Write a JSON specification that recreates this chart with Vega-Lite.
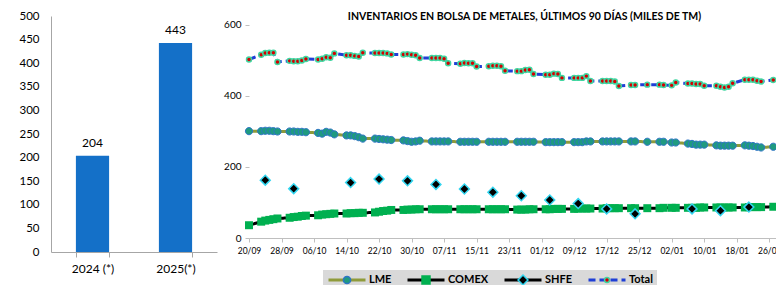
{
  "$schema": "https://vega.github.io/schema/vega-lite/v6.json",
  "background": "white",
  "padding": {"left": 18, "top": 10, "right": 0, "bottom": 0},
  "spacing": 6,
  "config": {
    "view": {"stroke": null},
    "font": "Lato",
    "axis": {"labelFont": "Lato", "labelColor": "#000000", "grid": false, "title": null}
  },
  "datasets": {
    "daily": [
      {"date": "2024-09-20", "LME": 301, "COMEX": 36, "Total": 503},
      {"date": "2024-09-23", "LME": 301, "COMEX": 46, "Total": 516},
      {"date": "2024-09-24", "LME": 302, "COMEX": 49, "Total": 521},
      {"date": "2024-09-25", "LME": 302, "COMEX": 51, "Total": 522},
      {"date": "2024-09-26", "LME": 301, "COMEX": 53, "Total": 522},
      {"date": "2024-09-27", "LME": 300, "COMEX": 55, "Total": 496},
      {"date": "2024-09-30", "LME": 300, "COMEX": 57, "Total": 499},
      {"date": "2024-10-01", "LME": 300, "COMEX": 59, "Total": 498},
      {"date": "2024-10-02", "LME": 299, "COMEX": 60, "Total": 498},
      {"date": "2024-10-03", "LME": 299, "COMEX": 62, "Total": 500},
      {"date": "2024-10-04", "LME": 298, "COMEX": 63, "Total": 504},
      {"date": "2024-10-07", "LME": 296, "COMEX": 64, "Total": 503},
      {"date": "2024-10-08", "LME": 294, "COMEX": 66, "Total": 505},
      {"date": "2024-10-09", "LME": 299, "COMEX": 67, "Total": 509},
      {"date": "2024-10-10", "LME": 297, "COMEX": 68, "Total": 508},
      {"date": "2024-10-11", "LME": 292, "COMEX": 69, "Total": 520},
      {"date": "2024-10-14", "LME": 289, "COMEX": 69, "Total": 515},
      {"date": "2024-10-15", "LME": 289, "COMEX": 70, "Total": 515},
      {"date": "2024-10-16", "LME": 287, "COMEX": 70, "Total": 513},
      {"date": "2024-10-17", "LME": 284, "COMEX": 71, "Total": 511},
      {"date": "2024-10-18", "LME": 280, "COMEX": 71, "Total": 522},
      {"date": "2024-10-21", "LME": 280, "COMEX": 72, "Total": 521},
      {"date": "2024-10-22", "LME": 279, "COMEX": 74, "Total": 521},
      {"date": "2024-10-23", "LME": 278, "COMEX": 76, "Total": 521},
      {"date": "2024-10-24", "LME": 277, "COMEX": 77, "Total": 520},
      {"date": "2024-10-25", "LME": 276, "COMEX": 79, "Total": 517},
      {"date": "2024-10-28", "LME": 275, "COMEX": 79, "Total": 517},
      {"date": "2024-10-29", "LME": 273, "COMEX": 80, "Total": 518},
      {"date": "2024-10-30", "LME": 271, "COMEX": 80, "Total": 516},
      {"date": "2024-10-31", "LME": 272, "COMEX": 81, "Total": 515},
      {"date": "2024-11-01", "LME": 274, "COMEX": 81, "Total": 507},
      {"date": "2024-11-04", "LME": 272, "COMEX": 81, "Total": 507},
      {"date": "2024-11-05", "LME": 272, "COMEX": 81, "Total": 507},
      {"date": "2024-11-06", "LME": 272, "COMEX": 81, "Total": 507},
      {"date": "2024-11-07", "LME": 272, "COMEX": 81, "Total": 505},
      {"date": "2024-11-08", "LME": 272, "COMEX": 81, "Total": 492},
      {"date": "2024-11-11", "LME": 271, "COMEX": 81, "Total": 491},
      {"date": "2024-11-12", "LME": 271, "COMEX": 81, "Total": 493},
      {"date": "2024-11-13", "LME": 271, "COMEX": 81, "Total": 492},
      {"date": "2024-11-14", "LME": 271, "COMEX": 81, "Total": 492},
      {"date": "2024-11-15", "LME": 271, "COMEX": 81, "Total": 483},
      {"date": "2024-11-18", "LME": 271, "COMEX": 81, "Total": 484},
      {"date": "2024-11-19", "LME": 271, "COMEX": 81, "Total": 485},
      {"date": "2024-11-20", "LME": 271, "COMEX": 81, "Total": 485},
      {"date": "2024-11-21", "LME": 271, "COMEX": 81, "Total": 484},
      {"date": "2024-11-22", "LME": 271, "COMEX": 81, "Total": 471},
      {"date": "2024-11-25", "LME": 271, "COMEX": 80, "Total": 470},
      {"date": "2024-11-26", "LME": 271, "COMEX": 80, "Total": 470},
      {"date": "2024-11-27", "LME": 271, "COMEX": 80, "Total": 473},
      {"date": "2024-11-28", "LME": 271, "COMEX": 81, "Total": 474},
      {"date": "2024-11-29", "LME": 271, "COMEX": 81, "Total": 462},
      {"date": "2024-12-02", "LME": 270, "COMEX": 81, "Total": 460},
      {"date": "2024-12-03", "LME": 270, "COMEX": 81, "Total": 460},
      {"date": "2024-12-04", "LME": 270, "COMEX": 82, "Total": 463},
      {"date": "2024-12-05", "LME": 270, "COMEX": 82, "Total": 462},
      {"date": "2024-12-06", "LME": 270, "COMEX": 82, "Total": 451},
      {"date": "2024-12-09", "LME": 270, "COMEX": 82, "Total": 451},
      {"date": "2024-12-10", "LME": 270, "COMEX": 83, "Total": 451},
      {"date": "2024-12-11", "LME": 270, "COMEX": 83, "Total": 451},
      {"date": "2024-12-12", "LME": 272, "COMEX": 83, "Total": 456},
      {"date": "2024-12-13", "LME": 272, "COMEX": 83, "Total": 442},
      {"date": "2024-12-16", "LME": 272, "COMEX": 83, "Total": 442},
      {"date": "2024-12-17", "LME": 272, "COMEX": 84, "Total": 442},
      {"date": "2024-12-18", "LME": 272, "COMEX": 84, "Total": 442},
      {"date": "2024-12-19", "LME": 272, "COMEX": 84, "Total": 441},
      {"date": "2024-12-20", "LME": 272, "COMEX": 84, "Total": 428},
      {"date": "2024-12-23", "LME": 272, "COMEX": 84, "Total": 431},
      {"date": "2024-12-24", "LME": 272, "COMEX": 84, "Total": 431},
      {"date": "2024-12-27", "LME": 271, "COMEX": 84, "Total": 432},
      {"date": "2024-12-30", "LME": 271, "COMEX": 84, "Total": 432},
      {"date": "2024-12-31", "LME": 271, "COMEX": 85, "Total": 431},
      {"date": "2025-01-02", "LME": 269, "COMEX": 85, "Total": 430},
      {"date": "2025-01-03", "LME": 269, "COMEX": 85, "Total": 438},
      {"date": "2025-01-06", "LME": 266, "COMEX": 85, "Total": 435},
      {"date": "2025-01-07", "LME": 265, "COMEX": 85, "Total": 435},
      {"date": "2025-01-08", "LME": 263, "COMEX": 85, "Total": 434},
      {"date": "2025-01-09", "LME": 263, "COMEX": 86, "Total": 434},
      {"date": "2025-01-10", "LME": 263, "COMEX": 86, "Total": 429},
      {"date": "2025-01-13", "LME": 261, "COMEX": 86, "Total": 429},
      {"date": "2025-01-14", "LME": 260, "COMEX": 86, "Total": 426},
      {"date": "2025-01-15", "LME": 260, "COMEX": 86, "Total": 424},
      {"date": "2025-01-16", "LME": 260, "COMEX": 86, "Total": 426},
      {"date": "2025-01-17", "LME": 260, "COMEX": 86, "Total": 436},
      {"date": "2025-01-20", "LME": 261, "COMEX": 86, "Total": 446},
      {"date": "2025-01-21", "LME": 260, "COMEX": 87, "Total": 446},
      {"date": "2025-01-22", "LME": 259, "COMEX": 87, "Total": 446},
      {"date": "2025-01-23", "LME": 257, "COMEX": 87, "Total": 443},
      {"date": "2025-01-24", "LME": 255, "COMEX": 87, "Total": 441},
      {"date": "2025-01-27", "LME": 257, "COMEX": 88, "Total": 445}
    ],
    "shfe": [
      {"date": "2024-09-24", "SHFE": 163},
      {"date": "2024-10-01", "SHFE": 139},
      {"date": "2024-10-15", "SHFE": 156},
      {"date": "2024-10-22", "SHFE": 166},
      {"date": "2024-10-29", "SHFE": 161},
      {"date": "2024-11-05", "SHFE": 151},
      {"date": "2024-11-12", "SHFE": 138},
      {"date": "2024-11-19", "SHFE": 129},
      {"date": "2024-11-26", "SHFE": 119},
      {"date": "2024-12-03", "SHFE": 107},
      {"date": "2024-12-10", "SHFE": 97},
      {"date": "2024-12-17", "SHFE": 82},
      {"date": "2024-12-24", "SHFE": 68},
      {"date": "2025-01-07", "SHFE": 82},
      {"date": "2025-01-14", "SHFE": 77},
      {"date": "2025-01-21", "SHFE": 87}
    ],
    "annual": [
      {"year": "2024 (*)", "value": 204},
      {"year": "2025(*)", "value": 443}
    ]
  },
  "hconcat": [
    {
      "width": 166,
      "height": 236,
      "data": {"name": "annual"},
      "encoding": {
        "x": {
          "field": "year", "type": "nominal",
          "scale": {"paddingInner": 0.6, "paddingOuter": 0.3},
          "axis": {"labelAngle": 0, "tickBand": "extent", "domainColor": "#a6a6a6", "tickColor": "#a6a6a6", "tickSize": 5, "labelFontSize": 12, "labelPadding": 6}
        },
        "y": {
          "field": "value", "type": "quantitative",
          "scale": {"domain": [0, 500], "nice": false},
          "axis": {"values": [0, 50, 100, 150, 200, 250, 300, 350, 400, 450, 500], "ticks": false, "domainColor": "#a6a6a6", "labelFontSize": 11.5, "labelPadding": 12}
        }
      },
      "layer": [
        {"mark": {"type": "bar", "color": "#1470c8"}},
        {"mark": {"type": "text", "baseline": "bottom", "dy": -6, "fontSize": 12, "font": "Lato", "color": "#000000"}, "encoding": {"text": {"field": "value", "type": "quantitative"}}}
      ]
    },
    {
      "width": 527,
      "height": 222,
      "title": {"text": "INVENTARIOS EN BOLSA DE METALES, ÚLTIMOS 90 DÍAS (MILES DE TM)", "font": "Lato", "fontSize": 10.5, "fontWeight": "bold", "anchor": "middle", "dx": 12, "offset": -6, "color": "#000000"},
      "encoding": {
        "x": {
          "field": "date", "type": "temporal",
          "scale": {"type": "utc", "domain": [{"year": 2024, "month": 9, "date": 20, "utc": true}, {"year": 2025, "month": 1, "date": 27, "hours": 16, "utc": true}]},
          "axis": {
            "format": "%d/%m", "labelFontSize": 8.5, "tickSize": 4, "domainColor": "#bfbfbf", "tickColor": "#bfbfbf", "labelPadding": 4, "labelOverlap": false, "labelFlush": false,
            "values": [
              {"year": 2024, "month": 9, "date": 20, "utc": true},
              {"year": 2024, "month": 9, "date": 28, "utc": true},
              {"year": 2024, "month": 10, "date": 6, "utc": true},
              {"year": 2024, "month": 10, "date": 14, "utc": true},
              {"year": 2024, "month": 10, "date": 22, "utc": true},
              {"year": 2024, "month": 10, "date": 30, "utc": true},
              {"year": 2024, "month": 11, "date": 7, "utc": true},
              {"year": 2024, "month": 11, "date": 15, "utc": true},
              {"year": 2024, "month": 11, "date": 23, "utc": true},
              {"year": 2024, "month": 12, "date": 1, "utc": true},
              {"year": 2024, "month": 12, "date": 9, "utc": true},
              {"year": 2024, "month": 12, "date": 17, "utc": true},
              {"year": 2024, "month": 12, "date": 25, "utc": true},
              {"year": 2025, "month": 1, "date": 2, "utc": true},
              {"year": 2025, "month": 1, "date": 10, "utc": true},
              {"year": 2025, "month": 1, "date": 18, "utc": true},
              {"year": 2025, "month": 1, "date": 26, "utc": true}
            ]
          }
        }
      },
      "layer": [
        {
          "data": {"values": [{}]},
          "mark": {"type": "rule", "color": "#bfbfbf", "strokeWidth": 1},
          "encoding": {
            "x": {"datum": {"year": 2024, "month": 9, "date": 20, "utc": true}, "type": "temporal"},
            "y": {"datum": 0, "type": "quantitative"},
            "y2": {"datum": 600}
          }
        },
        {
          "data": {"name": "daily"},
          "mark": {"type": "line", "strokeWidth": 3},
          "encoding": {
            "y": {"field": "Total", "type": "quantitative", "scale": {"domain": [0, 625.35], "nice": false},
              "axis": {"values": [0, 100, 200, 300, 400, 500, 600], "domain": false, "tickSize": 4, "tickColor": "#bfbfbf", "labelFontSize": 10, "labelPadding": 4}},
            "color": {"datum": "Total", "type": "nominal",
              "scale": {"domain": ["LME", "COMEX", "SHFE", "Total"], "range": ["#8f9b3b", "#000000", "#000000", "#1f3fd6"]},
              "legend": {
                "orient": "none", "legendX": 272, "legendY": 254, "direction": "horizontal", "title": null,
                "symbolType": "stroke", "symbolSize": 1369, "symbolStrokeWidth": 3, "clipHeight": 12, "labelOffset": 2, "columnPadding": 14,
                "labelFont": "Lato", "labelFontSize": 11, "labelFontWeight": "bold", "labelColor": "#000000",
                "fillColor": "#d9d9d9", "padding": 4, "zindex": 0
              }},
            "strokeDash": {"datum": "Total", "type": "nominal",
              "scale": {"domain": ["LME", "COMEX", "SHFE", "Total"], "range": [[1, 0], [1, 0], [1, 0], [7, 4]]}}
          }
        },
        {
          "data": {"name": "daily"},
          "mark": {"type": "line", "strokeWidth": 3},
          "encoding": {
            "y": {"field": "LME", "type": "quantitative"},
            "color": {"datum": "LME", "type": "nominal"},
            "strokeDash": {"datum": "LME", "type": "nominal"}
          }
        },
        {
          "data": {"name": "daily"},
          "mark": {"type": "line", "strokeWidth": 3},
          "encoding": {
            "y": {"field": "COMEX", "type": "quantitative"},
            "color": {"datum": "COMEX", "type": "nominal"},
            "strokeDash": {"datum": "COMEX", "type": "nominal"}
          }
        },
        {
          "data": {"name": "daily"},
          "mark": {"type": "point", "filled": true, "size": 1444, "strokeWidth": 1.5, "opacity": 1},
          "encoding": {
            "y": {"field": "Total", "type": "quantitative"},
            "shape": {"datum": "Total", "type": "nominal",
              "scale": {"domain": ["LME", "COMEX", "SHFE", "Total", "zz"], "range": [
                "M0.19,0A0.19,0.19,0,1,1,-0.19,0A0.19,0.19,0,1,1,0.19,0Z",
                "M-0.21,-0.21H0.21V0.21H-0.21Z",
                "M0,-0.26L0.26,0L0,0.26L-0.26,0Z",
                "M0.13,0A0.13,0.13,0,1,1,-0.13,0A0.13,0.13,0,1,1,0.13,0Z",
                "circle"]},
              "legend": {
                "orient": "none", "legendX": 272, "legendY": 254, "direction": "horizontal", "title": null,
                "values": ["LME", "COMEX", "SHFE", "Total"],
                "symbolSize": 1444, "symbolStrokeWidth": 1.5, "clipHeight": 12, "labelOffset": 2, "columnPadding": 14,
                "labelFont": "Lato", "labelFontSize": 11, "labelFontWeight": "bold", "labelOpacity": 0,
                "padding": 4, "zindex": 1
              }},
            "fill": {"datum": "Total", "type": "nominal",
              "scale": {"domain": ["LME", "COMEX", "SHFE", "Total", "zz"], "range": ["#1f9a80", "#00b050", "#000000", "#d40000", "#000000"]}},
            "stroke": {"datum": "Total", "type": "nominal",
              "scale": {"domain": ["LME", "COMEX", "SHFE", "Total", "zz"], "range": ["#2e75c6", "#00b050", "#33d6f0", "#3fd6a0", "#000000"]}}
          }
        },
        {
          "data": {"name": "daily"},
          "mark": {"type": "point", "filled": true, "size": 1444, "strokeWidth": 1, "opacity": 1},
          "encoding": {
            "y": {"field": "LME", "type": "quantitative"},
            "shape": {"datum": "LME", "type": "nominal"},
            "fill": {"datum": "LME", "type": "nominal"},
            "stroke": {"datum": "LME", "type": "nominal"}
          }
        },
        {
          "data": {"name": "daily"},
          "mark": {"type": "point", "filled": true, "size": 1444, "strokeWidth": 0, "opacity": 1},
          "encoding": {
            "y": {"field": "COMEX", "type": "quantitative"},
            "shape": {"datum": "COMEX", "type": "nominal"},
            "fill": {"datum": "COMEX", "type": "nominal"},
            "stroke": {"datum": "COMEX", "type": "nominal"}
          }
        },
        {
          "data": {"name": "shfe"},
          "mark": {"type": "point", "filled": true, "size": 1444, "strokeWidth": 1.5, "opacity": 1},
          "encoding": {
            "y": {"field": "SHFE", "type": "quantitative"},
            "shape": {"datum": "SHFE", "type": "nominal"},
            "fill": {"datum": "SHFE", "type": "nominal"},
            "stroke": {"datum": "SHFE", "type": "nominal"}
          }
        }
      ]
    }
  ]
}
